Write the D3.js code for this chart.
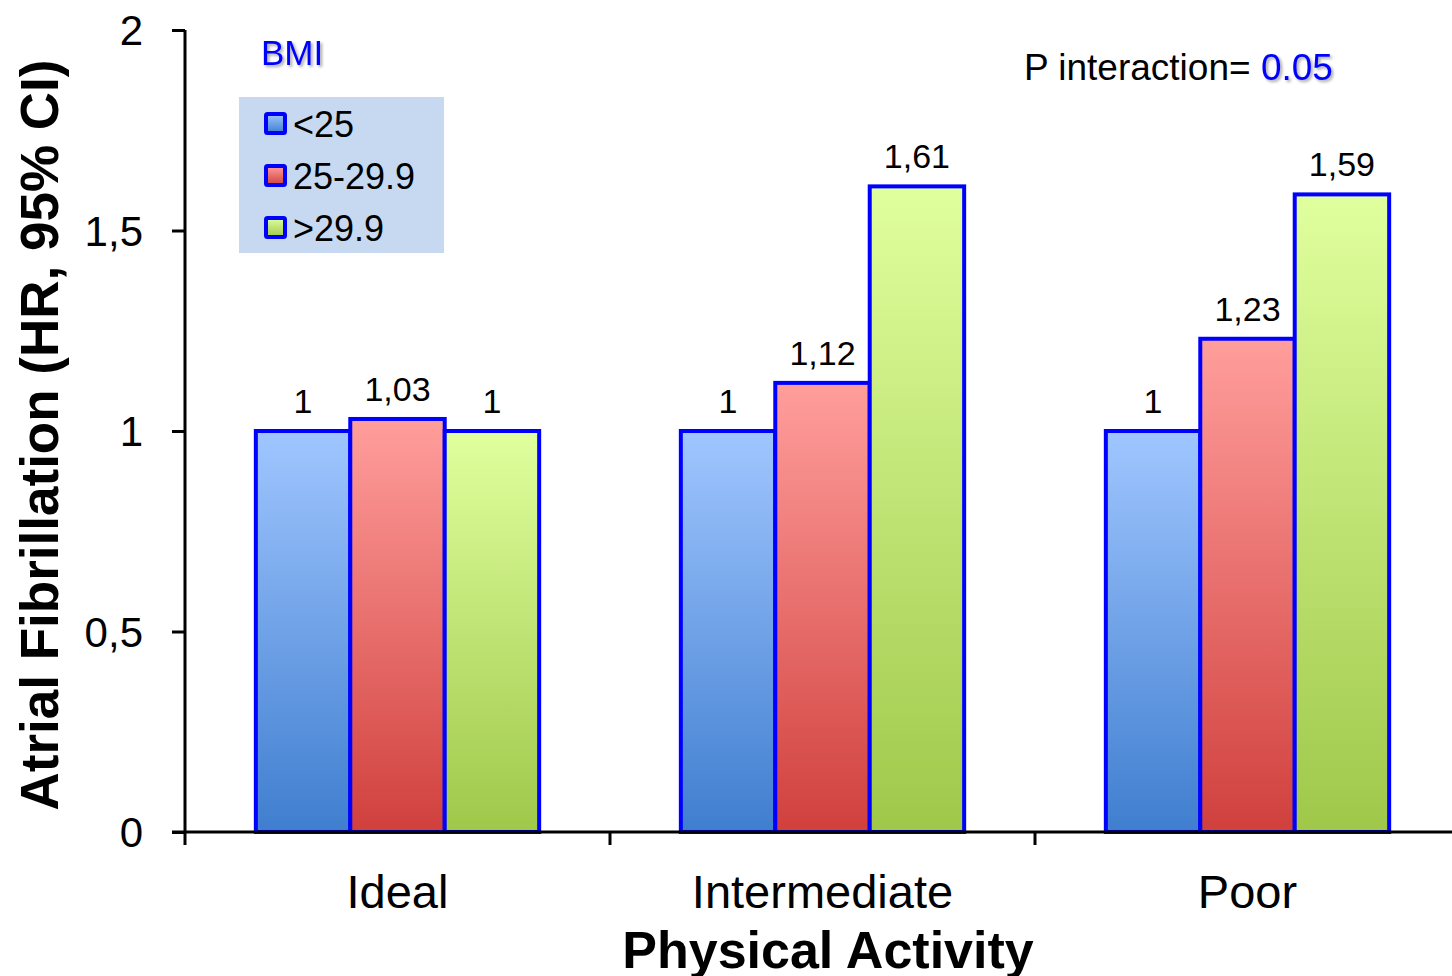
<!DOCTYPE html>
<html>
<head>
<meta charset="utf-8">
<script src="https://cdn.jsdelivr.net/npm/d3@7"></script>
<style>
  html, body { margin: 0; padding: 0; background: #fff; }
  svg { display: block; font-family: "Liberation Sans", Arial, sans-serif; }
</style>
</head>
<body>
<svg id="chart" width="1452" height="976"></svg>
<script>
// Hazard ratios for atrial fibrillation by physical activity and BMI group
const categories = ["Ideal", "Intermediate", "Poor"];
const seriesNames = ["<25", "25-29.9", ">29.9"];
const bmiUnder25 = [1, 1, 1];
const bmi25to30 = [1.03, 1.12, 1.23];
const bmiOver30 = [1, 1.61, 1.59];
const valueLabels = [["1", "1,03", "1"], ["1", "1,12", "1,61"], ["1", "1,23", "1,59"]];
const yTicks = [0, 0.5, 1, 1.5, 2];
const yTickLabels = ["0", "0,5", "1", "1,5", "2"];

const series = [bmiUnder25, bmi25to30, bmiOver30];
const gradStops = [
  ["#a0c6ff", "#3f7ecf"],
  ["#ff9e9c", "#d0403d"],
  ["#e0ff9e", "#9fc84a"]
];

const svg = d3.select("#chart");
const margin = { left: 185, right: 1460, top: 30, bottom: 832 };

const x = d3.scaleBand().domain(categories).range([margin.left, margin.right]).paddingInner(0).paddingOuter(0);
const xInner = d3.scaleBand().domain(d3.range(series.length)).range([0, x.bandwidth()]).paddingOuter(0.75).paddingInner(0);
const y = d3.scaleLinear().domain([0, 2]).range([margin.bottom, margin.top]);

// gradients
const defs = svg.append("defs");
gradStops.forEach((s, i) => {
  const g = defs.append("linearGradient").attr("id", "grad" + i)
    .attr("x1", 0).attr("y1", 0).attr("x2", 0).attr("y2", 1);
  g.append("stop").attr("offset", "0%").attr("stop-color", s[0]);
  g.append("stop").attr("offset", "100%").attr("stop-color", s[1]);
});
const shadow = defs.append("filter").attr("id", "txtshadow").attr("x", "-20%").attr("y", "-20%").attr("width", "140%").attr("height", "160%");
shadow.append("feDropShadow").attr("dx", 2).attr("dy", 2).attr("stdDeviation", 1.5).attr("flood-color", "#000").attr("flood-opacity", 0.35);

// bars
const groups = svg.append("g").selectAll("g")
  .data(categories).join("g")
  .attr("transform", d => `translate(${x(d)},0)`);

groups.each(function(cat, ci) {
  const g = d3.select(this);
  series.forEach((vals, si) => {
    const v = vals[ci];
    g.append("rect")
      .attr("x", xInner(si))
      .attr("y", y(v))
      .attr("width", xInner.bandwidth())
      .attr("height", y(0) - y(v))
      .attr("fill", `url(#grad${si})`)
      .attr("stroke", "#0000ff")
      .attr("stroke-width", 4);
    g.append("text")
      .attr("x", xInner(si) + xInner.bandwidth() / 2)
      .attr("y", y(v) - 18)
      .attr("text-anchor", "middle")
      .attr("font-size", 34)
      .attr("fill", "#000")
      .text(valueLabels[ci][si]);
  });
});

// y axis
const yAxis = d3.axisLeft(y).tickValues(yTicks).tickFormat((d, i) => yTickLabels[i]).tickSize(13).tickPadding(29);
const yg = svg.append("g").attr("transform", `translate(${margin.left},0)`).call(yAxis);
yg.select(".domain").attr("stroke", "#000").attr("stroke-width", 3).attr("d", `M0,${margin.top}V${margin.bottom}`);
yg.selectAll(".tick line").attr("stroke", "#000").attr("stroke-width", 3);
yg.selectAll(".tick text").attr("font-size", 42).attr("fill", "#000").attr("font-family", "Liberation Sans, Arial, sans-serif").attr("dy", "0.35em");

// x axis with ticks at category boundaries
const xg = svg.append("g").attr("transform", `translate(0,${margin.bottom})`);
xg.append("line").attr("x1", margin.left - 13).attr("x2", 1452).attr("y1", 0).attr("y2", 0)
  .attr("stroke", "#000").attr("stroke-width", 3);
xg.selectAll(".xtick").data(categories).join("line")
  .attr("x1", d => x(d)).attr("x2", d => x(d)).attr("y1", 0).attr("y2", 13)
  .attr("stroke", "#000").attr("stroke-width", 3);
xg.selectAll(".xlab").data(categories).join("text")
  .attr("x", d => x(d) + x.bandwidth() / 2)
  .attr("y", 76)
  .attr("text-anchor", "middle")
  .attr("font-size", 47)
  .attr("fill", "#000")
  .text(d => d);

// axis titles
svg.append("text")
  .attr("x", 828).attr("y", 968)
  .attr("text-anchor", "middle")
  .attr("font-size", 52).attr("font-weight", "bold")
  .text("Physical Activity");

svg.append("text")
  .attr("transform", "translate(58,435) rotate(-90)")
  .attr("text-anchor", "middle")
  .attr("font-size", 53).attr("font-weight", "bold")
  .text("Atrial Fibrillation (HR, 95% CI)");

// legend
svg.append("text").attr("x", 261).attr("y", 65)
  .attr("font-size", 35).attr("fill", "#0000ff").attr("filter", "url(#txtshadow)")
  .text("BMI");

const lg = svg.append("g").attr("transform", "translate(239,97)");
lg.append("rect").attr("width", 205).attr("height", 156).attr("fill", "#c6d9f0");
seriesNames.forEach((name, i) => {
  const row = lg.append("g").attr("transform", `translate(0,${26 + i * 52})`);
  row.append("rect").attr("x", 27).attr("y", -9).attr("width", 19).attr("height", 19)
    .attr("fill", `url(#grad${i})`).attr("stroke", "#0000ff").attr("stroke-width", 4).attr("rx", 1.5);
  row.append("text").attr("x", 54).attr("y", 14).attr("font-size", 36).attr("fill", "#000").text(name);
});

// interaction annotation
const pt = svg.append("text").attr("x", 1024).attr("y", 80).attr("font-size", 37).attr("fill", "#000");
pt.append("tspan").text("P interaction= ");
pt.append("tspan").attr("fill", "#0000ff").attr("filter", "url(#txtshadow)").text("0.05");
</script>
</body>
</html>
